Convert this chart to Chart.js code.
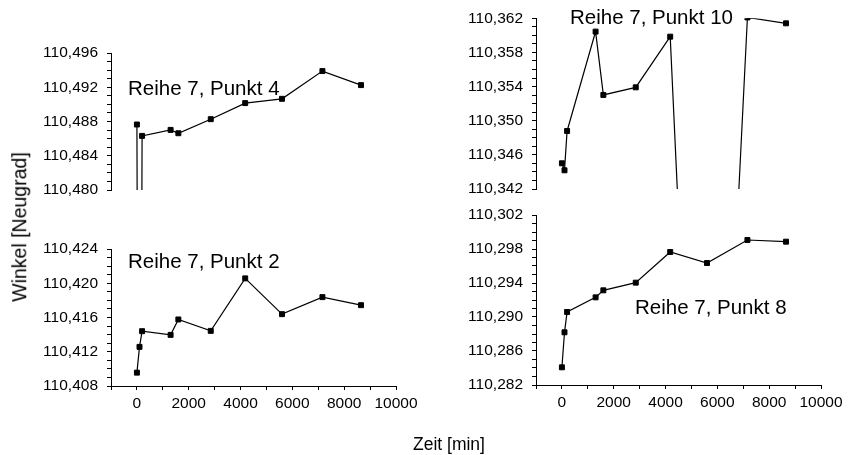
<!DOCTYPE html>
<html>
<head>
<meta charset="utf-8">
<script src="https://cdn.jsdelivr.net/npm/chart.js@4"></script>
<style>
  body { margin: 0; background: #fff; }
  #wrap { position: relative; width: 848px; height: 455px; overflow: hidden; font-family: "Liberation Sans", Arial, sans-serif; color: #000; }
  #wrap canvas { position: absolute; left: 0; top: 0; }
  .lbl { position: absolute; font-size: 20.5px; line-height: 1; white-space: nowrap; }
  #ytitle { position: absolute; left: 20px; top: 227px; font-size: 19.5px; line-height: 1; white-space: nowrap; transform: translate(-50%, -50%) rotate(-90deg); }
  #xtitle { position: absolute; left: 413px; top: 436px; font-size: 17.5px; line-height: 1; white-space: nowrap; }
</style>
</head>
<body>
<div id="wrap">
  <canvas id="c4" width="848" height="455"></canvas>
  <canvas id="c10" width="848" height="455"></canvas>
  <canvas id="c2" width="848" height="455"></canvas>
  <canvas id="c8" width="848" height="455"></canvas>
  <div class="lbl" style="left:128px; top:78px;">Reihe 7, Punkt 4</div>
  <div class="lbl" style="left:570px; top:7px;">Reihe 7, Punkt 10</div>
  <div class="lbl" style="left:128px; top:251px;">Reihe 7, Punkt 2</div>
  <div class="lbl" style="left:635px; top:297px;">Reihe 7, Punkt 8</div>
  <div id="ytitle">Winkel [Neugrad]</div>
  <div id="xtitle">Zeit [min]</div>
</div>
<script>
// time in minutes, shared by all four series
const timeMin = [0, 100, 200, 1300, 1600, 2850, 4180, 5600, 7160, 8650];

// angle values [Neugrad]
const punkt4 = [110.48765, 110.400, 110.48632, 110.48702, 110.48663, 110.48827, 110.49015, 110.49065, 110.49389, 110.49225];
const punkt10 = [110.34501, 110.34419, 110.3488, 110.36044, 110.35302, 110.35391, 110.35985, 110.267, 110.3621, 110.36141];
const punkt2 = [110.40956, 110.41257, 110.4144, 110.41397, 110.41577, 110.41444, 110.42057, 110.41639, 110.41838, 110.41744];
const punkt8 = [110.28408, 110.2882, 110.29059, 110.29231, 110.29314, 110.29404, 110.29765, 110.29635, 110.29906, 110.29886];

// axis ranges
const xRange = [-1000, 10000];
const yRange4 = [110.480, 110.496];
const yRange10 = [110.342, 110.362];
const yRange2 = [110.408, 110.424];
const yRange8 = [110.282, 110.302];

const tickFont = { family: '"Liberation Sans", Arial, sans-serif', size: 15.5 };

function makePanel(id, values, yRange, area, showX) {
    const xAxisHeight = showX ? 40 : 0;
    return new Chart(document.getElementById(id), {
        type: 'line',
        data: {
            datasets: [{
                data: timeMin.map((t, i) => ({ x: t, y: values[i] })),
                borderColor: '#000',
                borderWidth: 1.2,
                backgroundColor: '#000',
                pointStyle: 'rect',
                pointRadius: 3.5,
                pointBorderWidth: 1,
                pointBackgroundColor: '#000',
                pointBorderColor: '#000',
                tension: 0,
                clip: 0
            }]
        },
        options: {
            responsive: false,
            animation: false,
            events: [],
            layout: {
                padding: { left: 0, top: area.top, right: 848 - area.right, bottom: 455 - area.bottom - xAxisHeight }
            },
            plugins: {
                legend: { display: false },
                tooltip: { enabled: false }
            },
            scales: {
                x: {
                    type: 'linear',
                    display: showX,
                    min: xRange[0],
                    max: xRange[1],
                    afterBuildTicks: (scale) => {
                        const t = [];
                        for (let v = xRange[0]; v <= xRange[1]; v += 1000) t.push({ value: v });
                        scale.ticks = t;
                    },
                    afterFit: (scale) => { scale.height = xAxisHeight; },
                    grid: { drawOnChartArea: false, drawTicks: true, tickLength: 4, color: '#000' },
                    border: { display: true, color: '#000', width: 1 },
                    ticks: {
                        color: '#000',
                        font: tickFont,
                        padding: 4,
                        maxRotation: 0,
                        autoSkip: false,
                        callback: (v) => (v % 2000 === 0 ? String(v) : '')
                    }
                },
                y: {
                    type: 'linear',
                    min: yRange[0],
                    max: yRange[1],
                    afterBuildTicks: (scale) => {
                        const n = Math.round((yRange[1] - yRange[0]) * 1000);
                        const t = [];
                        for (let k = 0; k <= n; k++) t.push({ value: +(yRange[0] + k * 0.001).toFixed(3) });
                        scale.ticks = t;
                    },
                    afterFit: (scale) => { scale.width = area.left; },
                    grid: { drawOnChartArea: false, drawTicks: true, tickLength: 4, color: '#000' },
                    border: { display: true, color: '#000', width: 1 },
                    ticks: {
                        color: '#000',
                        font: tickFont,
                        padding: 9,
                        autoSkip: false,
                        callback: (v, i) => (i % 4 === 0 ? v.toFixed(3).replace('.', ',') : '')
                    }
                }
            }
        }
    });
}

makePanel('c4', punkt4, yRange4, { left: 111, right: 396, top: 53, bottom: 190 }, false);
makePanel('c10', punkt10, yRange10, { left: 536, right: 821, top: 18, bottom: 189 }, false);
makePanel('c2', punkt2, yRange2, { left: 111, right: 396, top: 249, bottom: 386 }, true);
makePanel('c8', punkt8, yRange8, { left: 536, right: 821, top: 215, bottom: 385 }, true);
</script>
</body>
</html>
